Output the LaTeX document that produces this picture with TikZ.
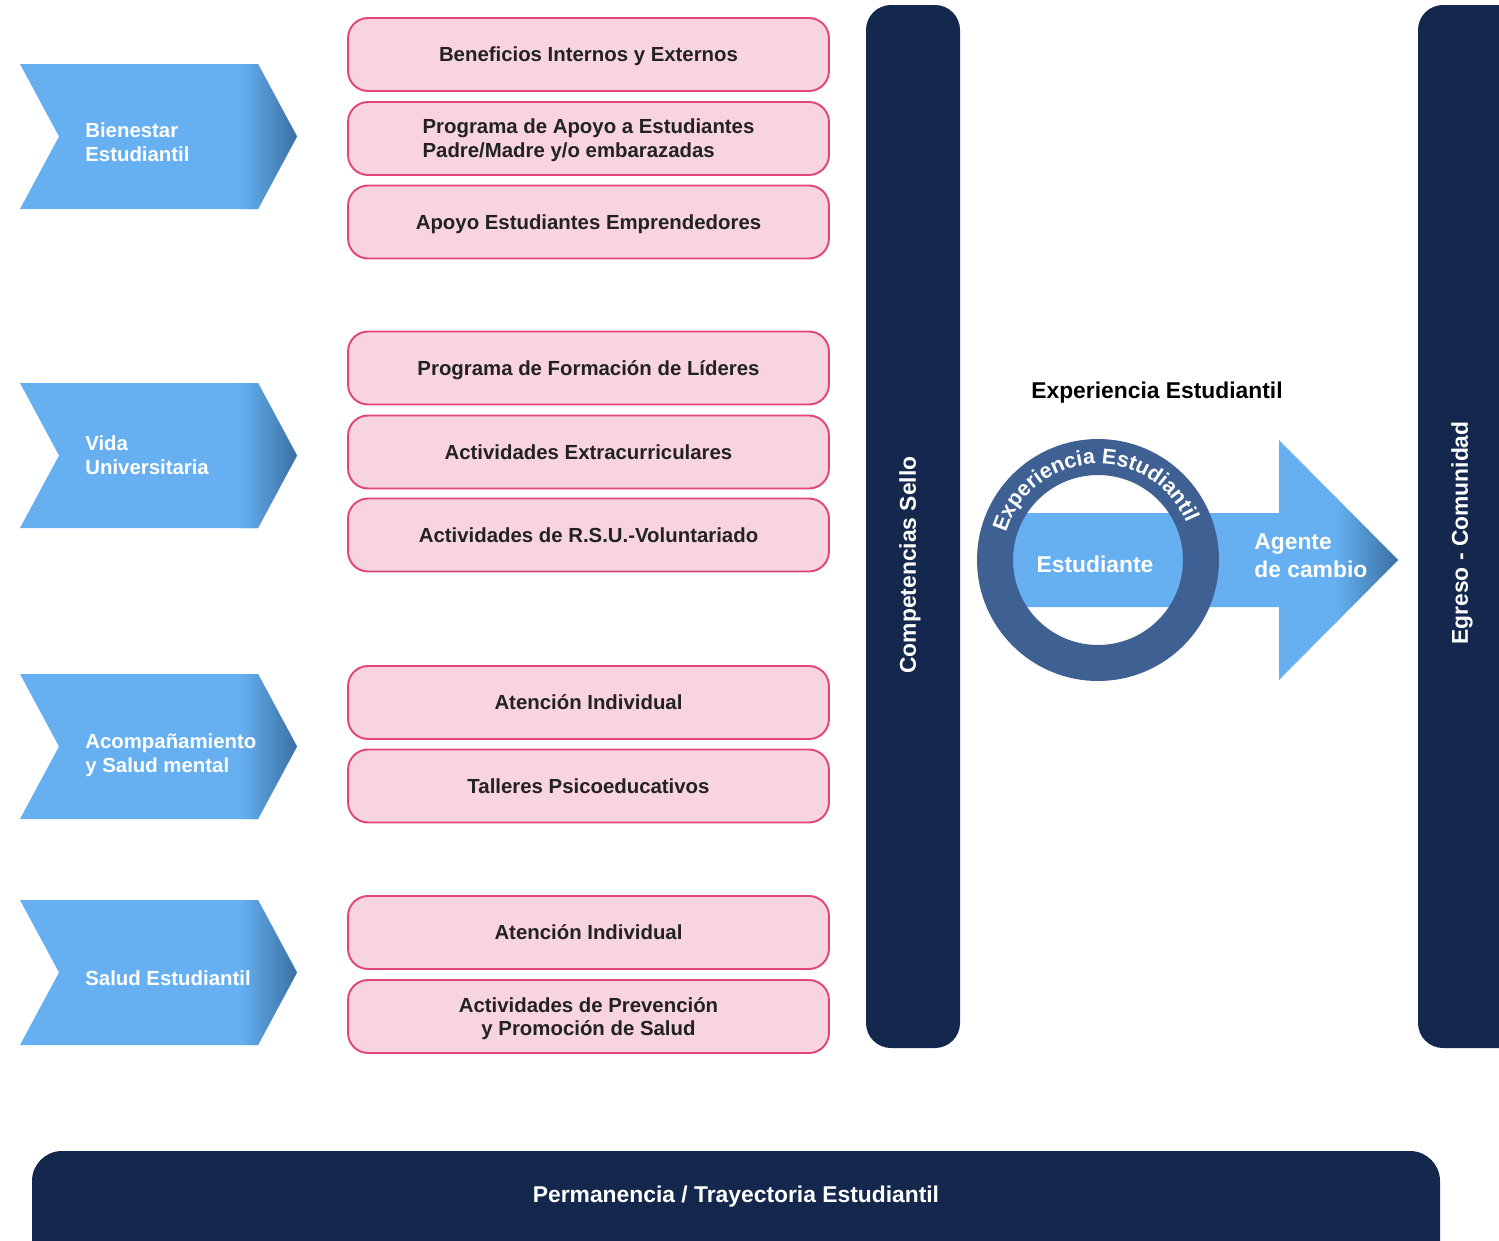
\documentclass[tikz,border=0pt]{standalone}
\usepackage{fontspec}
\setmainfont{Liberation Sans}
\usepackage{tikz}
\usetikzlibrary{decorations.text}
\definecolor{wwbqfs}{rgb}{0.4,0.6901960784313725,0.9490196078431372}
\definecolor{tawfaq}{rgb}{0.22745098039215686,0.43529411764705883,0.6274509803921569}
\definecolor{rusyud}{rgb}{0.0784313725490196,0.1568627450980392,0.30196078431372547}
\definecolor{tewqzt}{rgb}{0.24313725490196078,0.3764705882352941,0.5764705882352941}
\definecolor{fydteq}{rgb}{0.9725490196078431,0.8274509803921568,0.8784313725490196}
\definecolor{esuvxa}{rgb}{0.8862745098039215,0.27058823529411763,0.47843137254901963}
\definecolor{ssssss}{rgb}{0.13333333333333333,0.13333333333333333,0.13333333333333333}
\tikzset{
  itembox/.style={draw=esuvxa,fill=fydteq,line width=1.1pt,rounded corners=0.4cm,minimum width=9.62cm,minimum height=1.46cm,text depth=0pt,text=ssssss,font=\bfseries\fontsize{11.6}{13.6}\selectfont},
  chevtext/.style={text=white,anchor=west,align=left,inner sep=0pt,font=\bfseries\fontsize{11.6}{13.6}\selectfont},
  bartext/.style={text=white,inner sep=0pt,font=\bfseries\fontsize{13}{15.9}\selectfont}
}

\begin{document}
\begin{tikzpicture}[line cap=round,line join=round,x=0.02cm,y=0.02cm]
\useasboundingbox (0,0) rectangle (1499,-1241);
\clip (0,0) rectangle (1499,-1241);
% chevrons
\begin{scope}[shift={(0,-136.5)}]
\clip (20,72.5) -- (258,72.5) -- (297,0) -- (258,-72.5) -- (20,-72.5) -- (59,0) -- cycle;
\fill [wwbqfs] (20,73) rectangle (298,-73);
\shade [left color=wwbqfs,right color=tawfaq] (240,73) rectangle (298,-73);
\end{scope}
\node [chevtext] (bienestar) at (85,-142) {Bienestar\\Estudiantil};
\begin{scope}[shift={(0,-455.5)}]
\clip (20,72.5) -- (258,72.5) -- (297,0) -- (258,-72.5) -- (20,-72.5) -- (59,0) -- cycle;
\fill [wwbqfs] (20,73) rectangle (298,-73);
\shade [left color=wwbqfs,right color=tawfaq] (240,73) rectangle (298,-73);
\end{scope}
\node [chevtext] (vida) at (85,-455) {Vida\\Universitaria};
\begin{scope}[shift={(0,-746.5)}]
\clip (20,72.5) -- (258,72.5) -- (297,0) -- (258,-72.5) -- (20,-72.5) -- (59,0) -- cycle;
\fill [wwbqfs] (20,73) rectangle (298,-73);
\shade [left color=wwbqfs,right color=tawfaq] (240,73) rectangle (298,-73);
\end{scope}
\node [chevtext] (acompanamiento) at (85,-755) {Acompañamiento\\y Salud mental};
\begin{scope}[shift={(0,-972.5)}]
\clip (20,72.5) -- (258,72.5) -- (297,0) -- (258,-72.5) -- (20,-72.5) -- (59,0) -- cycle;
\fill [wwbqfs] (20,73) rectangle (298,-73);
\shade [left color=wwbqfs,right color=tawfaq] (240,73) rectangle (298,-73);
\end{scope}
\node [chevtext] (salud) at (85,-978) {Salud Estudiantil};
% program boxes
\node [itembox] (beneficios) at (588.5,-54.5) {Beneficios Internos y Externos};
\node [itembox,align=left] (padres) at (588.5,-138.5) {Programa de Apoyo a Estudiantes\\Padre/Madre y/o embarazadas};
\node [itembox] (emprendedores) at (588.5,-222) {Apoyo Estudiantes Emprendedores};
\node [itembox] (lideres) at (588.5,-368) {Programa de Formación de Líderes};
\node [itembox] (extra) at (588.5,-452) {Actividades Extracurriculares};
\node [itembox] (rsu) at (588.5,-535) {Actividades de R.S.U.-Voluntariado};
\node [itembox] (atencionA) at (588.5,-702.5) {Atención Individual};
\node [itembox] (talleres) at (588.5,-786) {Talleres Psicoeducativos};
\node [itembox] (atencionB) at (588.5,-932.5) {Atención Individual};
\node [itembox,align=center] (prevencion) at (588.5,-1016.5) {Actividades de Prevención\\y Promoción de Salud};
% bars
\fill [rusyud,rounded corners=0.5cm] (866,-5) rectangle (960,-1048);
\node [bartext,rotate=90] (sello) at (910,-565) {Competencias Sello};
\fill [rusyud,rounded corners=0.5cm] (1418,-5) rectangle (1560,-1048);
\node [bartext,rotate=90] (egreso) at (1462,-533) {Egreso - Comunidad};
\fill [rusyud,rounded corners=0.6cm] (32,-1151) rectangle (1440,-1320);
\node [bartext] (permanencia) at (736,-1197) {Permanencia / Trayectoria Estudiantil};
% experiencia
\node [bartext,text=black] (titulo) at (1157,-393) {Experiencia Estudiantil};
\begin{scope}
\clip (1000,-513) -- (1279,-513) -- (1279,-440) -- (1398,-560) -- (1279,-680) -- (1279,-607) -- (1000,-607) -- cycle;
\fill [wwbqfs] (1000,-430) rectangle (1400,-690);
\shade [left color=wwbqfs,right color=tawfaq] (1335,-430) rectangle (1399,-690);
\end{scope}
\fill [tewqzt,even odd rule] (1098,-560) circle (2.42cm) circle (1.7cm);
\path [decorate,decoration={text along path,text align=center,text color=white,text={|\bfseries\fontsize{12.2}{14}\selectfont|Experiencia Estudiantil}}] (1098,-560) ++(167:1.92cm) arc [start angle=167,end angle=19,radius=1.92cm];
\node [bartext] (estudiante) at (1095,-564) {Estudiante};
\node [bartext,anchor=west,align=left] (agente) at (1254,-556) {Agente\\de cambio};
\end{tikzpicture}
\end{document}
